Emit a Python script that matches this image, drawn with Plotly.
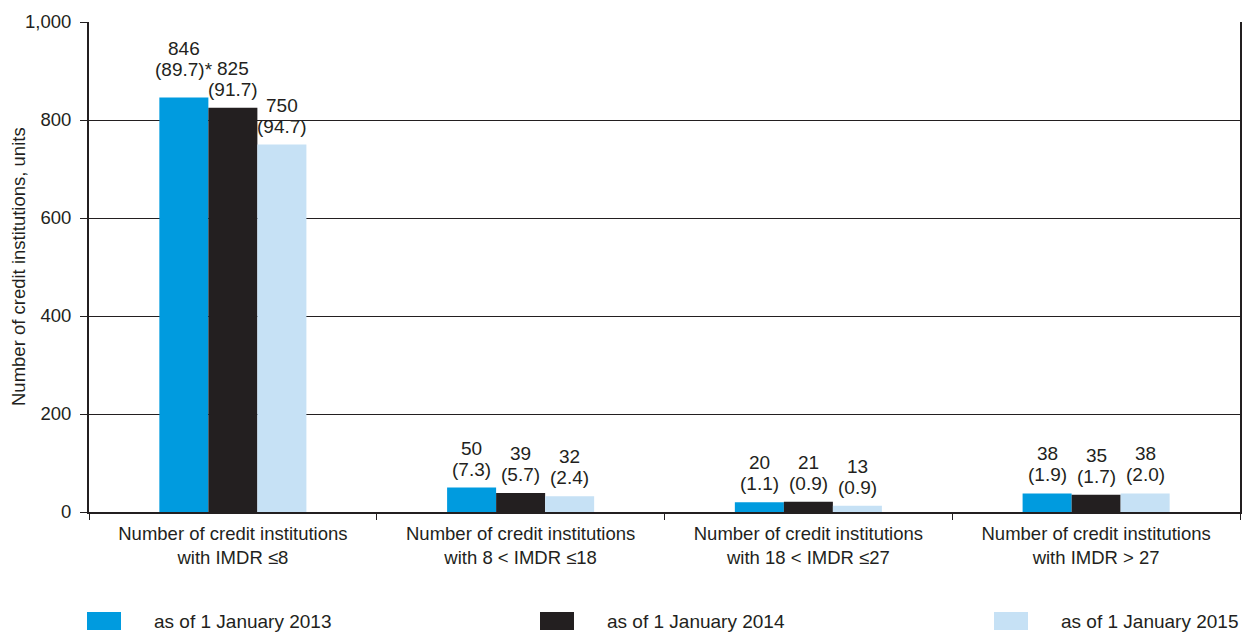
import plotly.graph_objects as go

# ---- data -----------------------------------------------------------------
categories = [
    "Number of credit institutions<br>with IMDR ≤8",
    "Number of credit institutions<br>with 8 &lt; IMDR ≤18",
    "Number of credit institutions<br>with 18 &lt; IMDR ≤27",
    "Number of credit institutions<br>with IMDR &gt; 27",
]
series_names = ["as of 1 January 2013", "as of 1 January 2014", "as of 1 January 2015"]

counts_2013 = [846, 50, 20, 38]
counts_2014 = [825, 39, 21, 35]
counts_2015 = [750, 32, 13, 38]

# share of the group in total assets, %
shares_2013 = [89.7, 7.3, 1.1, 1.9]
shares_2014 = [91.7, 5.7, 0.9, 1.7]
shares_2015 = [94.7, 2.4, 0.9, 2.0]

y_ticks = [0, 200, 400, 600, 800, 1000]
y_tick_labels = ["0", "200", "400", "600", "800", "1,000"]
y_title = "Number of credit institutions, units"

# ---- styling --------------------------------------------------------------
colors = ["#009bdf", "#231f20", "#c6e1f5"]
ink = "#231f20"
font_family = "Liberation Sans, Arial, sans-serif"
BARGAP = 0.489

W, H = 1250, 633
M_L, M_R, M_T, M_B = 89, 10, 22, 121
plot_w = W - M_L - M_R
plot_h = H - M_T - M_B


def px_x(px):
    return (px - M_L) / plot_w


def px_y(py):
    return (H - M_B - py) / plot_h


counts = [counts_2013, counts_2014, counts_2015]
shares = [shares_2013, shares_2014, shares_2015]

fig = go.Figure()
for name, vals, col in zip(series_names, counts, colors):
    fig.add_trace(go.Bar(
        x=categories, y=vals, name=name,
        marker=dict(color=col, line=dict(width=0)),
        showlegend=False, hoverinfo="x+y+name",
    ))

# value labels above each bar: count on top, share in brackets beneath
bar_w = (1 - BARGAP) / len(series_names)
annotations = []
for j, (vals, shs) in enumerate(zip(counts, shares)):
    for i, (v, s) in enumerate(zip(vals, shs)):
        xpos = i + (j - (len(series_names) - 1) / 2) * bar_w
        share_txt = f"({s:.1f})"
        lift = 0
        if i == 0 and j == 0:
            # footnote mark; label raised a little so the star clears its neighbour
            share_txt += "*"
            lift = 9
        annotations.append(dict(
            x=xpos, y=v, xref="x", yref="y", text=share_txt,
            showarrow=False, yanchor="bottom", yshift=6 + lift,
            font=dict(size=19, color=ink, family=font_family),
        ))
        annotations.append(dict(
            x=xpos, y=v, xref="x", yref="y", text=f"{v}",
            showarrow=False, yanchor="bottom", yshift=27 + lift,
            font=dict(size=19, color=ink, family=font_family),
        ))

# rotated axis title
annotations.append(dict(
    x=px_x(18), y=0.5, xref="paper", yref="paper", text=y_title,
    textangle=-90, showarrow=False, xanchor="center", yanchor="middle",
    font=dict(size=18.5, color=ink, family=font_family),
))

# legend row along the bottom
shapes = []
swatch_left = [87, 540, 994]
for k, (name, col) in enumerate(zip(series_names, colors)):
    x0 = swatch_left[k]
    shapes.append(dict(
        type="rect", xref="paper", yref="paper",
        x0=px_x(x0), x1=px_x(x0 + 34), y0=px_y(630), y1=px_y(612),
        fillcolor=col, line=dict(width=0),
    ))
    annotations.append(dict(
        x=px_x(x0 + 65), y=px_y(621), xref="paper", yref="paper",
        text=name, showarrow=False, xanchor="left", yanchor="middle",
        font=dict(size=19, color=ink, family=font_family),
    ))

fig.update_layout(
    width=W, height=H,
    margin=dict(l=M_L, r=M_R, t=M_T, b=M_B, autoexpand=False),
    paper_bgcolor="white", plot_bgcolor="white",
    barmode="group", bargap=BARGAP, bargroupgap=0,
    font=dict(family=font_family, color=ink, size=18),
    annotations=annotations, shapes=shapes,
    showlegend=False,
)
fig.update_xaxes(
    type="category", range=[-0.5, len(categories) - 0.5],
    showline=True, linewidth=2, linecolor=ink,
    ticks="outside", tickson="boundaries", ticklen=6, tickwidth=1, tickcolor=ink,
    ticklabelstandoff=4,
    tickfont=dict(size=18.5, color=ink, family=font_family),
    showgrid=False, zeroline=False,
)
fig.update_yaxes(
    range=[0, 1000], tickmode="array", tickvals=y_ticks, ticktext=y_tick_labels,
    showline=True, linewidth=2, linecolor=ink, mirror=True,
    ticks="outside", ticklen=7, tickwidth=1, tickcolor=ink,
    ticklabelstandoff=5,
    tickfont=dict(size=18.5, color=ink, family=font_family),
    showgrid=True, gridcolor=ink, gridwidth=1,
    zeroline=False,
)

fig.write_html("out.html")
